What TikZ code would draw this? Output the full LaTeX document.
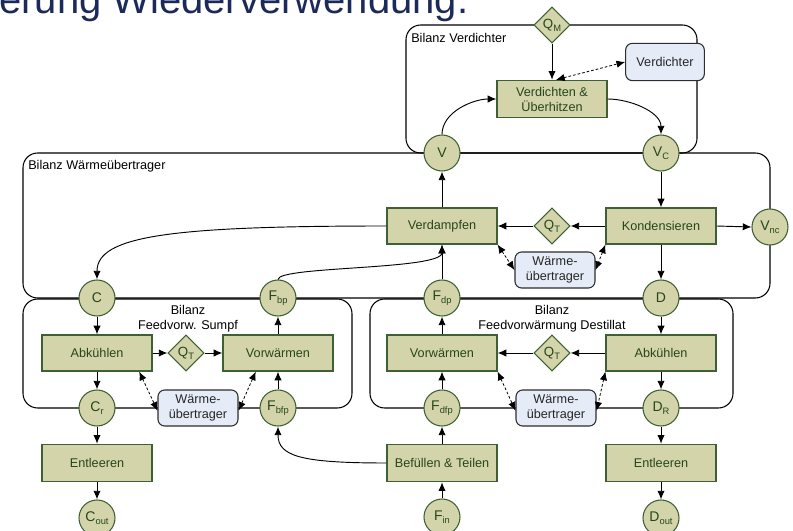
\documentclass[tikz,border=0pt]{standalone}
\usepackage{fontspec}
\setmainfont{Liberation Sans}
\usetikzlibrary{shapes.geometric,arrows.meta}
\definecolor{gfill}{RGB}{212,212,170}
\definecolor{gline}{RGB}{62,96,52}
\definecolor{gtext}{RGB}{38,70,30}
\definecolor{bfill}{RGB}{230,236,247}
\definecolor{bline}{RGB}{45,45,45}
\definecolor{titleblue}{RGB}{28,42,90}
\newcommand\sbs[1]{\raisebox{-0.45ex}{\fontsize{7}{7}\selectfont #1}}
\begin{document}
\begin{tikzpicture}[x=0.75pt,y=-0.75pt,
  every node/.style={font=\fontsize{9.5}{11.25}\selectfont},
  proc/.style={draw=gline,fill=gfill,line width=0.9pt,text=gtext,minimum width=82.5pt,minimum height=27pt,inner sep=1pt,align=center},
  conn/.style={circle,draw=gline,fill=gfill,line width=0.8pt,text=gtext,minimum size=27pt,inner sep=0pt,font=\fontsize{10.5}{11}\selectfont},
  dia/.style={diamond,draw=gline,fill=gfill,line width=0.8pt,text=gtext,minimum width=27pt,minimum height=27pt,inner sep=0pt,font=\fontsize{10}{11}\selectfont},
  hx/.style={rounded corners=5pt,draw=bline,fill=bfill,line width=0.8pt,text=black!85,minimum width=60pt,minimum height=27pt,inner sep=1pt,align=center},
  bal/.style={draw=black,line width=0.8pt,rounded corners=11pt},
  arr/.style={-{Latex[length=6.5pt,width=5.5pt]},line width=0.7pt},
  darr/.style={{Latex[length=6.5pt,width=5.5pt]}-{Latex[length=6.5pt,width=5.5pt]},dash pattern=on 2pt off 1.5pt,line width=0.6pt},
  lbl/.style={text=black,inner sep=0pt}
]
\useasboundingbox (0,0) rectangle (793,531);
\clip (0,0) rectangle (793,531);

% title fragment
\node[anchor=base west,text=titleblue,inner sep=0pt,font=\fontsize{30}{30}\selectfont] (title) at (-1,14) {erung Wiederverwendung.};

% balance boundaries
\draw[bal] (406,25) rectangle (697,153);
\draw[bal] (23,153) rectangle (770,298);
\draw[bal] (23,299) rectangle (352,408);
\draw[bal] (370,299) rectangle (733,408);

\node[lbl,anchor=west] (lv) at (411,38) {Bilanz Verdichter};
\node[lbl,anchor=west] (lw) at (28,166) {Bilanz Wärmeübertrager};
\node[lbl,align=center] (ls) at (188,319) {Bilanz\\Feedvorw. Sumpf};
\node[lbl,align=center] (ld) at (552,319) {Bilanz\\Feedvorwärmung Destillat};

% nodes
\node[dia] (QM) at (552,25) {Q\sbs{M}};
\node[hx,minimum width=59pt,minimum height=28pt] (VD) at (665,62) {Verdichter};
\node[proc,minimum height=28pt] (VU) at (552,99) {Verdichten \&\\Überhitzen};
\node[conn] (V) at (442,153) {V};
\node[conn] (Vc) at (661,153) {V\sbs{C}};

\node[proc] (Verd) at (442,226) {Verdampfen};
\node[dia] (QT1) at (552,226) {Q\sbs{T}};
\node[proc] (Kond) at (661,226) {Kondensieren};
\node[conn] (Vnc) at (770,227) {V\sbs{nc}};
\node[hx] (WU1) at (555,270) {Wärme-\\übertrager};

\node[conn] (C) at (97,298) {C};
\node[conn] (Fbp) at (278,298) {F\sbs{bp}};
\node[conn] (Fdp) at (442,298) {F\sbs{dp}};
\node[conn] (D) at (661,298) {D};

\node[proc] (Abk1) at (97,353) {Abkühlen};
\node[dia] (QT2) at (186,353) {Q\sbs{T}};
\node[proc] (Vorw1) at (278,353) {Vorwärmen};
\node[proc] (Vorw2) at (442,353) {Vorwärmen};
\node[dia] (QT3) at (552,353) {Q\sbs{T}};
\node[proc] (Abk2) at (661,353) {Abkühlen};

\node[conn] (Cr) at (97,408) {C\sbs{r}};
\node[hx] (WU2) at (198,408) {Wärme-\\übertrager};
\node[conn] (Fbfp) at (278,408) {F\sbs{bfp}};
\node[conn] (Fdfp) at (442,408) {F\sbs{dfp}};
\node[hx] (WU3) at (556,408) {Wärme-\\übertrager};
\node[conn] (DR) at (661,408) {D\sbs{R}};

\node[proc,minimum height=28pt] (Ent1) at (97,463) {Entleeren};
\node[proc,minimum height=28pt] (Bef) at (442,463) {Befüllen \& Teilen};
\node[proc,minimum height=28pt] (Ent2) at (661,463) {Entleeren};

\node[conn] (Cout) at (97,518) {C\sbs{out}};
\node[conn] (Fin) at (442,517) {F\sbs{in}};
\node[conn] (Dout) at (661,518) {D\sbs{out}};

% compressor balance
\draw[arr] (QM.south) -- (VU.north);
\draw[darr] ([xshift=3]VU.north) -- (VD.west);
\draw[arr] (V.north) to[out=90,in=180,looseness=0.9] (VU.west);
\draw[arr] (VU.east) to[out=0,in=90,looseness=0.9] (Vc.north);

% heat exchanger balance
\draw[arr] (Verd.north) -- (V.south);
\draw[arr] (Vc.south) -- (Kond.north);
\draw[arr] (Kond.west) -- (QT1.east);
\draw[arr] (QT1.west) -- (Verd.east);
\draw[arr] (Kond.east) -- (Vnc.west);
\draw[arr] (Kond.south) -- (D.north);
\draw[arr] (Fdp.north) -- (Verd.south);
\draw[arr] (Fbp.north) .. controls (278,266) and (442,270) .. (Verd.south);
\draw[arr] (Verd.west) .. controls (170,226) and (97,236) .. (C.north);
\draw[darr] (Verd.south east) -- (WU1.west);
\draw[darr] (Kond.south west) -- (WU1.east);

% feed preheating sump
\draw[arr] (C.south) -- (Abk1.north);
\draw[arr] (Abk1.east) -- (QT2.west);
\draw[arr] (QT2.east) -- (Vorw1.west);
\draw[arr] (Vorw1.north) -- (Fbp.south);
\draw[arr] (Fbfp.north) -- (Vorw1.south);
\draw[arr] (Abk1.south) -- (Cr.north);
\draw[darr] ([xshift=-10]Abk1.south east) -- ([yshift=-2]WU2.west);
\draw[darr] ([xshift=25]Vorw1.south west) -- ([yshift=-2]WU2.east);

% feed preheating distillate
\draw[arr] (D.south) -- (Abk2.north);
\draw[arr] (Abk2.west) -- (QT3.east);
\draw[arr] (QT3.west) -- (Vorw2.east);
\draw[arr] (Vorw2.north) -- (Fdp.south);
\draw[arr] (Fdfp.north) -- (Vorw2.south);
\draw[arr] (Abk2.south) -- (DR.north);
\draw[darr] (Vorw2.south east) -- ([yshift=-2]WU3.west);
\draw[darr] (Abk2.south west) -- ([yshift=-2]WU3.east);

% outputs / inputs
\draw[arr] (Cr.south) -- (Ent1.north);
\draw[arr] (Ent1.south) -- (Cout.north);
\draw[arr] (DR.south) -- (Ent2.north);
\draw[arr] (Ent2.south) -- (Dout.north);
\draw[arr] (Fin.north) -- (Bef.south);
\draw[arr] (Bef.north) -- (Fdfp.south);
\draw[arr] (Bef.west) .. controls (300,463) and (278,456) .. (Fbfp.south);
\end{tikzpicture}
\end{document}
